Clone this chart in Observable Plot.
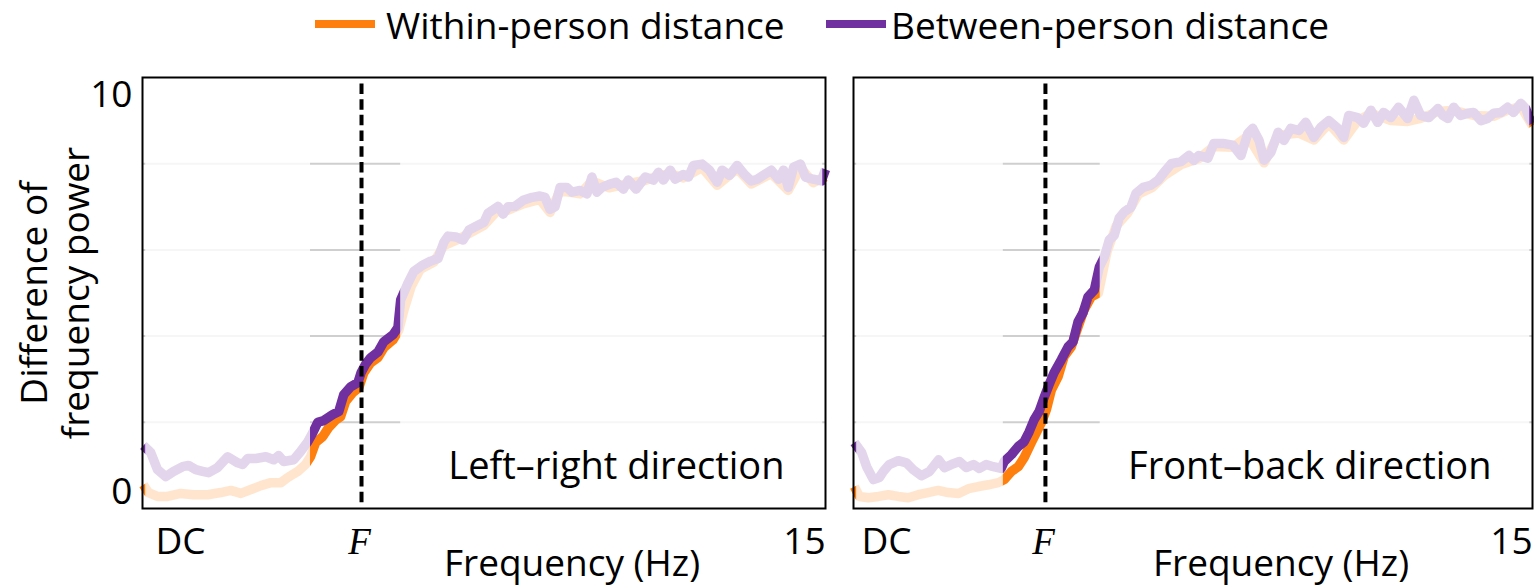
<!DOCTYPE html>
<html><head><meta charset="utf-8">
<script src="https://cdn.jsdelivr.net/npm/d3@7"></script>
<script src="https://cdn.jsdelivr.net/npm/@observablehq/plot@0.6"></script>
<style>
body{margin:0;background:#fff;font-family:"Open Sans",sans-serif;}
#wrap{position:relative;width:1534px;height:587px;overflow:hidden;background:#fff}
.leg{position:absolute;top:0;height:50px;line-height:50px;font-size:37px;color:#000;white-space:nowrap}
.sw{position:absolute;height:8px;top:20px;width:60px}
#p1{position:absolute;left:0;top:50px}
#p2{position:absolute;left:839px;top:50px}
</style></head><body>
<div id="wrap">
 <div class="sw" id="sw0" style="left:315px"></div>
 <div class="leg" id="lg0" style="left:386px"></div>
 <div class="sw" id="sw1" style="left:826px"></div>
 <div class="leg" id="lg1" style="left:891px"></div>
 <div id="p1"></div><div id="p2"></div>
</div>
<script>
// ---- data ----
const seriesNames = ["Within-person distance", "Between-person distance"];
const seriesColors = ["#ff7f0e", "#7030a0"];
const panelTitles = ["Left\u2013right direction", "Front\u2013back direction"];
const fValues = [4.81, 4.24];             // position of F (Hz)
const highlightRanges = [[3.69, 5.67], [3.31, 5.45]];
const xTickValues = ["DC", "F", "15"];
const yTickValues = [0, 10];
const yTickLabels = ["0", "10"];
const gridValues = [2, 4, 6, 8];

const leftWithin = [[0.02,0.55],[0.13,0.37],[0.33,0.28],[0.55,0.28],[0.84,0.35],[1.12,0.32],[1.43,0.32],[1.72,0.37],[1.94,0.42],[2.16,0.35],[2.38,0.44],[2.60,0.53],[2.82,0.60],[3.04,0.60],[3.19,0.72],[3.41,0.86],[3.58,1.02],[3.69,1.20],[3.80,1.53],[3.96,1.67],[4.09,1.88],[4.25,2.06],[4.35,2.13],[4.46,2.48],[4.62,2.69],[4.75,2.80],[4.86,3.15],[5.01,3.38],[5.17,3.50],[5.30,3.73],[5.50,3.91],[5.63,4.14],[5.74,4.60],[5.90,5.15],[6.10,5.55],[6.40,5.72],[6.62,6.10],[6.88,6.22],[7.17,6.38],[7.50,6.57],[7.81,6.93],[8.03,6.92],[8.36,7.07],[8.73,7.17],[8.95,6.87],[9.17,7.37],[9.61,7.30],[9.87,7.60],[10.25,7.44],[10.67,7.54],[11.04,7.61],[11.33,7.72],[11.59,7.77],[11.88,7.67],[12.29,7.91],[12.62,7.50],[13.06,7.88],[13.37,7.53],[13.81,7.77],[14.18,7.38],[14.45,7.91],[14.73,7.56],[15.00,7.70]];
const leftBetween = [[0.02,1.46],[0.18,1.30],[0.33,0.90],[0.51,0.74],[0.68,0.86],[0.88,0.97],[1.01,1.00],[1.17,0.90],[1.32,0.86],[1.45,0.83],[1.65,0.95],[1.87,1.20],[2.09,1.06],[2.20,1.02],[2.31,1.16],[2.49,1.16],[2.71,1.20],[2.88,1.13],[2.99,1.23],[3.10,1.09],[3.32,1.13],[3.47,1.32],[3.63,1.55],[3.74,1.76],[3.85,2.00],[3.98,2.04],[4.18,2.18],[4.31,2.25],[4.42,2.64],[4.57,2.82],[4.73,2.92],[4.80,3.15],[4.90,3.35],[5.01,3.50],[5.17,3.63],[5.30,3.87],[5.50,4.03],[5.61,4.20],[5.67,4.84],[5.83,5.23],[5.96,5.50],[6.16,5.65],[6.33,5.74],[6.49,5.80],[6.62,6.18],[6.71,6.32],[6.88,6.30],[7.04,6.23],[7.17,6.46],[7.37,6.57],[7.50,6.64],[7.59,6.85],[7.81,7.01],[7.92,6.83],[8.03,7.00],[8.18,7.01],[8.36,7.15],[8.56,7.22],[8.73,7.25],[8.84,7.22],[8.95,6.94],[9.06,7.00],[9.17,7.45],[9.32,7.45],[9.43,7.34],[9.61,7.38],[9.76,7.30],[9.87,7.69],[9.98,7.34],[10.09,7.45],[10.25,7.52],[10.40,7.57],[10.56,7.41],[10.67,7.62],[10.84,7.41],[11.04,7.69],[11.22,7.62],[11.33,7.80],[11.44,7.62],[11.59,7.85],[11.70,7.64],[11.88,7.75],[11.99,7.69],[12.10,7.96],[12.29,7.99],[12.45,7.85],[12.62,7.57],[12.73,7.85],[12.89,7.73],[13.06,7.96],[13.22,7.75],[13.37,7.60],[13.50,7.64],[13.66,7.75],[13.81,7.85],[13.97,7.64],[14.08,7.85],[14.18,7.45],[14.30,7.92],[14.45,7.99],[14.56,7.69],[14.73,7.64],[14.91,7.60],[15.00,7.87]];

const rightWithin = [[0.02,0.51],[0.13,0.28],[0.33,0.25],[0.55,0.28],[0.77,0.32],[0.99,0.28],[1.21,0.25],[1.43,0.32],[1.65,0.37],[1.87,0.42],[2.09,0.37],[2.32,0.35],[2.54,0.46],[2.76,0.51],[2.98,0.55],[3.20,0.60],[3.33,0.67],[3.49,0.86],[3.64,0.97],[3.77,1.18],[3.93,1.53],[4.04,1.76],[4.15,1.99],[4.26,2.29],[4.37,2.75],[4.52,3.06],[4.65,3.52],[4.81,3.75],[4.96,4.21],[5.09,4.60],[5.25,4.91],[5.41,5.00],[5.60,5.95],[5.80,6.55],[6.05,6.85],[6.30,7.30],[6.60,7.45],[6.86,7.72],[7.24,7.98],[7.63,8.12],[7.96,8.40],[8.38,8.38],[8.71,8.64],[9.07,8.02],[9.38,8.66],[9.84,8.71],[10.17,8.55],[10.50,8.93],[10.83,8.55],[11.14,9.00],[11.43,9.17],[11.87,9.00],[12.24,8.98],[12.53,9.05],[12.91,9.21],[13.26,9.24],[13.70,9.12],[14.14,9.10],[14.45,9.24],[14.74,9.33],[15.00,8.88]];
const rightBetween = [[0.02,1.53],[0.18,1.30],[0.29,0.97],[0.44,0.67],[0.57,0.72],[0.66,0.86],[0.79,1.02],[0.99,1.11],[1.17,1.06],[1.32,0.90],[1.50,0.76],[1.68,0.86],[1.88,1.13],[2.01,0.95],[2.16,1.02],[2.34,1.09],[2.49,0.95],[2.65,1.02],[2.78,0.93],[2.93,1.02],[3.09,0.97],[3.26,0.93],[3.33,1.09],[3.49,1.25],[3.64,1.44],[3.77,1.55],[3.88,1.78],[3.99,2.06],[4.10,2.25],[4.21,2.57],[4.32,2.87],[4.43,3.15],[4.59,3.45],[4.74,3.75],[4.85,3.87],[4.96,4.33],[5.07,4.54],[5.18,4.91],[5.32,5.07],[5.43,5.60],[5.54,5.83],[5.65,6.23],[5.76,6.34],[5.87,6.74],[5.98,6.88],[6.13,6.99],[6.24,7.31],[6.40,7.45],[6.57,7.50],[6.73,7.62],[6.86,7.80],[7.02,8.00],[7.24,8.05],[7.41,8.19],[7.52,8.08],[7.63,8.19],[7.83,8.13],[7.96,8.47],[8.16,8.47],[8.38,8.43],[8.56,8.19],[8.71,8.70],[8.82,8.82],[8.96,8.54],[9.07,8.08],[9.22,8.26],[9.38,8.73],[9.51,8.54],[9.66,8.82],[9.84,8.77],[9.99,8.96],[10.17,8.61],[10.32,8.84],[10.50,9.00],[10.70,8.82],[10.83,8.61],[10.94,9.12],[11.14,9.07],[11.27,8.94],[11.43,9.24],[11.58,8.96],[11.71,9.19],[11.87,9.07],[12.04,9.31],[12.24,9.05],[12.38,9.47],[12.53,9.12],[12.71,9.07],[12.91,9.28],[13.02,9.12],[13.13,9.05],[13.26,9.31],[13.41,9.12],[13.57,9.17],[13.70,9.19],[13.86,9.00],[14.01,9.05],[14.14,9.17],[14.30,9.19],[14.45,9.31],[14.58,9.19],[14.74,9.40],[14.85,9.28],[14.92,9.07],[15.00,8.94]];

// ---- legend ----
document.getElementById("sw0").style.background = seriesColors[0];
document.getElementById("sw1").style.background = seriesColors[1];
document.getElementById("lg0").textContent = seriesNames[0];
document.getElementById("lg1").textContent = seriesNames[1];

const FONT = "Open Sans";
const FS = 37;

function panel(i, within, between, opts) {
  const F = fValues[i];
  const [h0, h1] = highlightRanges[i];
  const shade = [[0.07, h0], [h1, 14.94]];
  const marks = [
    Plot.ruleY(gridValues, {stroke: "#cfcfcf", strokeWidth: 2}),
    Plot.line(within, {x: d => d[0], y: d => d[1], stroke: seriesColors[0], strokeWidth: 9.5, strokeLinecap: "butt", strokeLinejoin: "round"}),
    Plot.line(between, {x: d => d[0], y: d => d[1], stroke: seriesColors[1], strokeWidth: 9.5, strokeLinecap: "butt", strokeLinejoin: "round"}),
    Plot.rect(shade, {x1: d => d[0], x2: d => d[1], y1: d => 0, y2: d => 10, fill: "white", fillOpacity: 0.8}),
    Plot.ruleX([F], {y1: 9.85, y2: 0.05, stroke: "black", strokeWidth: 4, strokeDasharray: "10.5,5.2"}),
    Plot.frame({stroke: "black", strokeWidth: 2}),
    Plot.text([panelTitles[i]], {frameAnchor: "bottom-right", textAnchor: "end", dx: -41, dy: -30, fontSize: 38}),
    Plot.axisX([0], {tickSize: 0, tickPadding: 19, tickFormat: () => xTickValues[0], dx: opts.dcDx, fontSize: FS, label: null}),
    Plot.axisX([F], {tickSize: 0, tickPadding: 19, tickFormat: () => xTickValues[1], dx: -2, fontSize: FS, fontFamily: "Liberation Serif", fontStyle: "italic", label: null}),
    Plot.axisX([15], {tickSize: 0, tickPadding: 19, tickFormat: () => xTickValues[2], dx: -21, fontSize: FS, label: null}),
    Plot.text(["Frequency (Hz)"], {frameAnchor: "bottom", lineAnchor: "top", dy: 41, dx: 88, fontSize: FS})
  ];
  if (i === 0) {
    marks.push(
      Plot.axisY([10], {tickSize: 0, tickPadding: 10, tickFormat: v => yTickLabels[yTickValues.indexOf(v)], dy: 18, fontSize: FS, label: null}),
      Plot.axisY([0], {tickSize: 0, tickPadding: 10, tickFormat: v => yTickLabels[yTickValues.indexOf(v)], dy: -16, fontSize: FS, label: null}),
      Plot.text(["Difference of\nfrequency power"], {frameAnchor: "left", rotate: -90, textAnchor: "middle", lineHeight: 1.15, dx: -88, fontSize: FS})
    );
  }
  return Plot.plot({
    width: opts.width, height: 537,
    marginTop: 27, marginBottom: 79, marginLeft: opts.ml, marginRight: opts.mr,
    x: {domain: [0, 15], label: null},
    y: {domain: [0, 10], label: null, axis: i === 0 ? undefined : null},
    style: {fontFamily: FONT, fontSize: FS + "px", background: "white", color: "black", overflow: "visible"},
    marks
  });
}

document.getElementById("p1").append(panel(0, leftWithin, leftBetween, {width: 839, ml: 142, mr: 14, dcDx: 38}));
document.getElementById("p2").append(panel(1, rightWithin, rightBetween, {width: 695, ml: 14, mr: 2, dcDx: 33}));
</script>
</body></html>
